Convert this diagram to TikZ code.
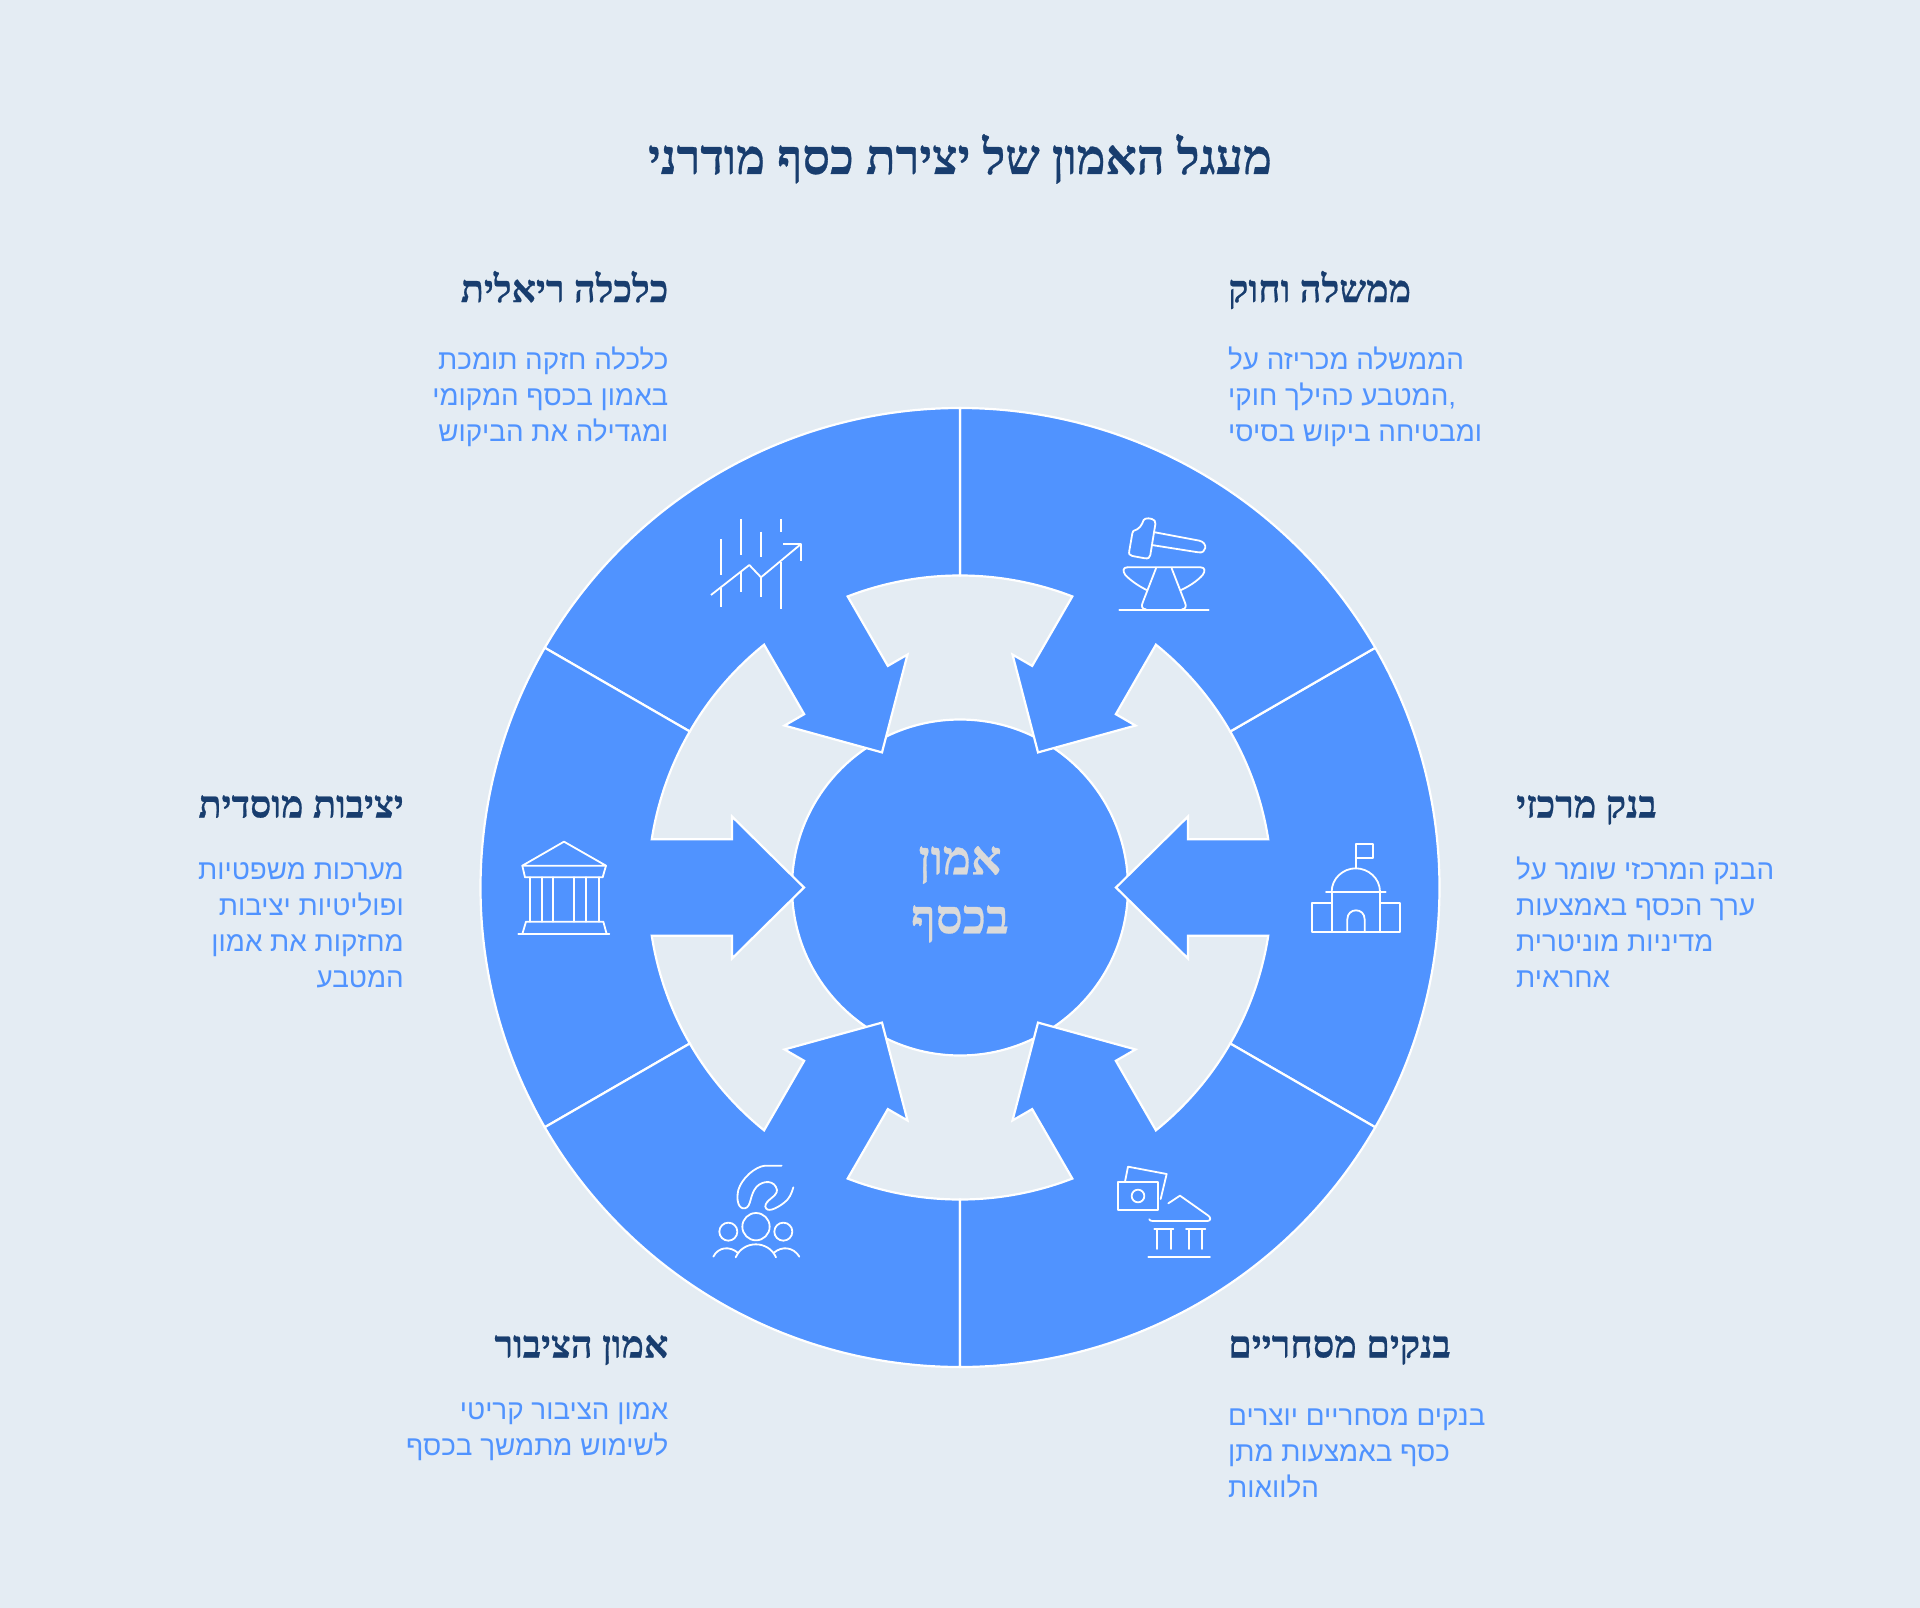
\documentclass[tikz,border=0pt]{standalone}
\usepackage{fontspec}
\usepackage{xcolor}
\usepackage{tikz}
\usetikzlibrary{positioning,calc}
\TeXXeTstate=1
\newfontfamily\bodyheb[Script=Hebrew]{Liberation Sans}
\newfontfamily\headheb[Script=Hebrew,BoldFeatures={FakeBold=0.6}]{Liberation Serif}
\definecolor{wheelBlue}{HTML}{5093FF}
\definecolor{pageGrey}{HTML}{E4ECF3}
\definecolor{headNavy}{HTML}{183D6E}
\definecolor{coreGrey}{HTML}{DADADA}
\newcommand{\heb}[1]{\strut\beginR #1\endR}
\tikzstyle{sectorBlue}=[fill=wheelBlue,draw=white,line width=2.2pt,line join=miter]
\tikzstyle{coreDisc}  =[circle,fill=wheelBlue,draw=white,line width=2.2pt,minimum size=336pt,inner sep=0pt]
\tikzstyle{coreText}  =[inner sep=0pt,align=center,text=coreGrey,font=\headheb\bfseries\fontsize{47.5}{59}\selectfont]
\tikzstyle{iconLine}  =[draw=white,line width=1.8pt,line join=round,line cap=round]
\tikzstyle{mainTitle} =[inner sep=0pt,anchor=base,text=headNavy,font=\headheb\bfseries\fontsize{48.6}{56}\selectfont]
\tikzstyle{headE}     =[inner sep=0pt,anchor=base east,text=headNavy,font=\headheb\bfseries\fontsize{37.9}{44}\selectfont]
\tikzstyle{headW}     =[inner sep=0pt,anchor=base west,text=headNavy,font=\headheb\bfseries\fontsize{37.9}{44}\selectfont]
\tikzstyle{bodyE}     =[inner sep=0pt,anchor=north east,align=right,text=wheelBlue,font=\bodyheb\fontsize{27.8}{36}\selectfont]
\tikzstyle{bodyW}     =[inner sep=0pt,anchor=north west,align=left,text=wheelBlue,font=\bodyheb\fontsize{27.8}{36}\selectfont]
\begin{document}
\begin{tikzpicture}[x=1pt,y=1pt]
  \fill[pageGrey] (0,0) rectangle (1920,-1608);
  \node[mainTitle] (title) at (960,-174) {\beginR מעגל האמון של יצירת כסף מודרני\endR};

  % wheel
  \node[coreDisc] (core) at (960,-887.5) {};
  \node[coreText] (coreLabel) at (960,-892) {\heb{אמון}\\\heb{בכסף}};
  \begin{scope}[shift={(960,-887.5)}]
    \foreach \a in {0,60,...,300}
      \filldraw[sectorBlue,rotate=\a] (-30:312) -- (-30:479.5) arc[start angle=-30,end angle=30,radius=479.5]
        -- (30:312) arc[start angle=30,end angle=8.9,radius=312]
        -- (228,48.3) -- (228,71) -- (156,0) -- (228,-71) -- (228,-48.3)
        -- (-8.9:312) arc[start angle=-8.9,end angle=-30,radius=312] -- cycle;
  \end{scope}

  % hammer and anvil
  \begin{scope}[shift={(1050,-480)},x=0.3333pt,y=-0.3333pt,iconLine]
    \draw (250,153) .. controls (270,147) and (275,135) .. (281,120) .. controls (285,113) and (305,113) .. (314,122)
      .. controls (318,128) and (316,135) .. (314,145) -- (301,225) .. controls (299,234) and (295,236) .. (285,235)
      -- (247,228) .. controls (238,226) and (236,222) .. (238,212) -- (247,160) .. controls (248,156) and (249,154) .. (250,153);
    \draw (315,157) -- (448,182) .. controls (475,188) and (470,222) .. (445,217) -- (305,195);
    \draw (232,262) -- (452,262) .. controls (466,262) and (466,274) .. (458,285) .. controls (445,300) and (420,318) .. (393,330);
    \draw (232,262) .. controls (218,262) and (218,274) .. (226,285) .. controls (240,300) and (265,318) .. (290,330);
    \draw (318,265) -- (278,368) .. controls (272,380) and (278,388) .. (288,388);
    \draw (365,265) -- (405,368) .. controls (411,380) and (405,388) .. (396,388);
    \draw (208,389) -- (476,389);
  \end{scope}

  % rising chart
  \begin{scope}[shift={(680,-480)},x=0.3333pt,y=-0.3333pt,iconLine,line cap=butt]
    \draw (123,178) -- (123,285) (123,325) -- (123,382);
    \draw (182,117) -- (182,225) (182,275) -- (182,337);
    \draw (243,155) -- (243,232) (243,292) -- (243,350);
    \draw (303,117) -- (303,155) (303,245) -- (303,386);
    \draw (93,345) -- (208,255) -- (243,292) -- (362,193);
    \draw (310,192) -- (363,192) -- (363,242);
  \end{scope}

  % temple
  \begin{scope}[shift={(490,-820)},x=0.3333pt,y=-0.3333pt,iconLine]
    \draw (97,137) -- (222,65) -- (348,137) -- cycle;
    \draw (97,137) -- (105,172) -- (338,172) -- (348,137);
    \foreach \c in {120,155,190,253,288,326}
      \draw (\c,172) -- (\c,305);
    \draw (97,342) -- (108,305) -- (340,305) -- (350,342);
    \draw (85,342) -- (358,342);
  \end{scope}

  % central bank
  \begin{scope}[shift={(1290,-820)},x=0.3333pt,y=-0.3333pt,iconLine]
    \draw (197,145) -- (197,72) -- (248,72) -- (248,114) -- (197,114);
    \draw (125,215) .. controls (125,175) and (160,145) .. (197,145) .. controls (235,145) and (270,175) .. (270,215);
    \draw (108,215) -- (287,215);
    \draw (125,215) -- (125,336) (270,215) -- (270,336);
    \draw (125,250) -- (65,250) -- (65,336) -- (330,336) -- (330,250) -- (270,250);
    \draw (172,336) -- (172,298) .. controls (172,262) and (224,262) .. (224,298) -- (224,336);
  \end{scope}

  % notes and bank
  \begin{scope}[shift={(1100,-1150)},x=0.3333pt,y=-0.3333pt,iconLine]
    \draw (53,96) rectangle (175,180);
    \draw (114,138) circle[radius=19];
    \draw (75,95) -- (84,50) -- (200,72) -- (182,147);
    \draw (205,160) -- (240,137) -- (325,197) .. controls (333,203) and (333,213) .. (322,213) -- (158,213) .. controls (152,213) and (149,211) .. (148,208);
    \draw (163,238) -- (220,238) (172,238) -- (172,297) (212,238) -- (212,297);
    \draw (258,238) -- (316,238) (268,238) -- (268,297) (306,238) -- (306,297);
    \draw (145,322) -- (330,322);
  \end{scope}

  % hand over people
  \begin{scope}[shift={(700,-1150)},x=0.3333pt,y=-0.3333pt,iconLine]
    \draw (168,230) circle[radius=41];
    \draw (85,245) circle[radius=27];
    \draw (250,245) circle[radius=27];
    \draw (107,322) .. controls (130,270) and (205,270) .. (228,322);
    \draw (40,320) .. controls (55,290) and (90,288) .. (113,308);
    \draw (222,308) .. controls (245,288) and (280,290) .. (298,320);
    \draw (245,47) -- (195,47) .. controls (165,50) and (125,85) .. (115,120) .. controls (108,150) and (115,178) .. (135,175)
      .. controls (155,170) and (148,135) .. (170,110) .. controls (190,90) and (225,90) .. (231,120)
      .. controls (232,140) and (195,150) .. (196,170) .. controls (200,190) and (230,175) .. (250,160) .. controls (268,148) and (275,130) .. (280,112);
  \end{scope}

  % labels
  \node[headW] (govHead) at (1228,-302) {\beginR ממשלה וחוק\endR};
  \node[bodyW] (govBody) at (1228,-343.8) {\heb{הממשלה מכריזה על}\\\heb{המטבע כהילך חוקי},\\\heb{ומבטיחה ביקוש בסיסי}};
  \node[headW] (cbHead) at (1516,-817.5) {\beginR בנק מרכזי\endR};
  \node[bodyW] (cbBody) at (1516,-854.4) {\heb{הבנק המרכזי שומר על}\\\heb{ערך הכסף באמצעות}\\\heb{מדיניות מוניטרית}\\\heb{אחראית}};
  \node[headW] (bankHead) at (1228,-1357.5) {\beginR בנקים מסחריים\endR};
  \node[bodyW] (bankBody) at (1228,-1400.5) {\heb{בנקים מסחריים יוצרים}\\\heb{כסף באמצעות מתן}\\\heb{הלוואות}};
  \node[headE] (pubHead) at (668.5,-1357.5) {\beginR אמון הציבור\endR};
  \node[bodyE] (pubBody) at (668.5,-1394.4) {\heb{אמון הציבור קריטי}\\\heb{לשימוש מתמשך בכסף}};
  \node[headE] (instHead) at (404,-817.5) {\beginR יציבות מוסדית\endR};
  \node[bodyE] (instBody) at (404,-854.4) {\heb{מערכות משפטיות}\\\heb{ופוליטיות יציבות}\\\heb{מחזקות את אמון}\\\heb{המטבע}};
  \node[headE] (realHead) at (668.5,-302) {\beginR כלכלה ריאלית\endR};
  \node[bodyE] (realBody) at (668.5,-343.8) {\heb{כלכלה חזקה תומכת}\\\heb{באמון בכסף המקומי}\\\heb{ומגדילה את הביקוש}};
\end{tikzpicture}
\end{document}
